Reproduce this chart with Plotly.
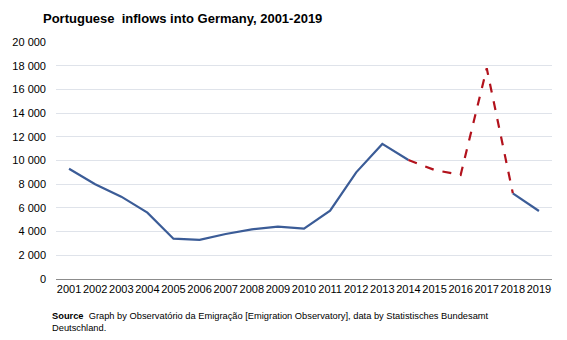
import plotly.graph_objects as go

years = [str(y) for y in range(2001, 2020)]
inflows = [9300, 8000, 6950, 5600, 3400, 3300, 3800, 4190, 4420, 4250,
           5770, 9000, 11400, 10040, 9200, 8780, 17780, 7230, 5740]
y_ticks = list(range(0, 20001, 2000))
y_tick_labels = [f"{v:,}".replace(",", " ") for v in y_ticks]

solid1 = [v if i <= 13 else None for i, v in enumerate(inflows)]
dashed = [v if 13 <= i <= 17 else None for i, v in enumerate(inflows)]
solid2 = [v if i >= 17 else None for i, v in enumerate(inflows)]

fig = go.Figure()
fig.add_trace(go.Scatter(x=years, y=solid1, mode="lines",
                         line=dict(color="#3B5C97", width=2.2), connectgaps=False))
fig.add_trace(go.Scatter(x=years, y=dashed, mode="lines",
                         line=dict(color="#B2121C", width=2.2, dash="dash"), connectgaps=False))
fig.add_trace(go.Scatter(x=years, y=solid2, mode="lines",
                         line=dict(color="#3B5C97", width=2.2), connectgaps=False))

fig.update_layout(
    width=567, height=340,
    margin=dict(l=50, r=15, t=42, b=61),
    paper_bgcolor="white", plot_bgcolor="white",
    showlegend=False,
    font=dict(family="Liberation Sans, Arial, sans-serif", size=11, color="#000000"),
    title=dict(text="<b>Portuguese  inflows into Germany, 2001-2019</b>",
               x=43/567, xanchor="left", y=1-18/340, yanchor="middle",
               font=dict(size=13, color="#000000")),
    xaxis=dict(type="category", range=[-0.5, 18.5], showgrid=False,
               showline=True, linecolor="#8c8c8c", linewidth=1,
               ticks="", tickfont=dict(size=11), tickangle=0, fixedrange=True),
    yaxis=dict(range=[0, 20000], tickvals=y_ticks, ticktext=y_tick_labels,
               showgrid=True, gridcolor="#dfe3ea", gridwidth=1,
               zeroline=False, showline=False, ticks="", ticklabelstandoff=9,
               tickfont=dict(size=11)),
    annotations=[dict(
        text="<b>Source</b>  Graph by Observatório da Emigração [Emigration Observatory], data by Statistisches Bundesamt<br>Deutschland.",
        xref="paper", yref="paper", x=(44-50)/502, y=-(309-279)/237, xanchor="left", yanchor="top",
        align="left", showarrow=False, font=dict(size=9.3, color="#000000"))],
)

fig.write_html("out.html")
